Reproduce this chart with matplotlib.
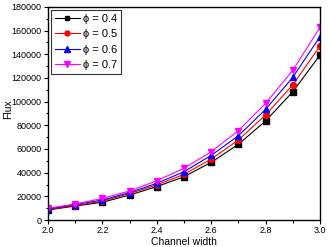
import matplotlib
matplotlib.use("Agg")
import matplotlib.pyplot as plt
from matplotlib.ticker import MultipleLocator

width = [2.0, 2.1, 2.2, 2.3, 2.4, 2.5, 2.6, 2.7, 2.8, 2.9, 3.0]
flux_04 = [8500, 11800, 15000, 21100, 28200, 36600, 48700, 64000, 83700, 108400, 139400]
flux_05 = [8900, 12200, 16000, 22400, 29600, 38600, 51500, 67600, 88700, 114300, 147000]
flux_06 = [9300, 13000, 16900, 23200, 31000, 40800, 54600, 71200, 93500, 120600, 155000]
flux_07 = [9900, 13500, 18300, 24500, 33200, 43700, 57700, 75500, 98600, 126500, 162800]
labels = ["ϕ = 0.4", "ϕ = 0.5", "ϕ = 0.6", "ϕ = 0.7"]

plt.rcParams['font.family'] = ['Liberation Sans', 'DejaVu Sans']
fig = plt.figure(figsize=(3.29, 2.47), dpi=100)
ax = fig.add_axes([48/329, 1 - 220/247, 272/329, 213/247])

styles = [("black", "s", 4.2), ("red", "o", 4.2), ("blue", "^", 4.8), ("magenta", "v", 4.8)]
for data, lab, (c, m, ms) in zip([flux_04, flux_05, flux_06, flux_07], labels, styles):
    ax.plot(width, data, color=c, marker=m, markersize=ms, linewidth=0.8, label=lab)

ax.set_xlim(2.0, 3.0)
ax.set_ylim(0, 180000)
ax.xaxis.set_major_locator(MultipleLocator(0.2))
ax.xaxis.set_minor_locator(MultipleLocator(0.1))
ax.yaxis.set_major_locator(MultipleLocator(20000))
ax.yaxis.set_minor_locator(MultipleLocator(10000))
ax.xaxis.set_major_formatter(plt.FuncFormatter(lambda v, p: "%.1f" % v))
ax.tick_params(axis='both', which='major', direction='out', length=3, width=0.8,
               labelsize=6.5, pad=1.5)
ax.tick_params(axis='both', which='minor', direction='out', length=1.8, width=0.8)
ax.tick_params(top=False, right=False, which='both')
for s in ax.spines.values():
    s.set_linewidth(1.0)

ax.set_xlabel("Channel width", fontsize=7.5, va='center')
ax.xaxis.set_label_coords(0.5, (220 - 242) / 213)
ax.set_ylabel("Flux", fontsize=7.5, va='center')
ax.yaxis.set_label_coords((8 - 48) / 272, 0.52)

leg = ax.legend(loc='upper left', fontsize=8, frameon=True, fancybox=False,
                edgecolor='black', handlelength=2.3, borderpad=0.3,
                labelspacing=0.5, handletextpad=0.25, borderaxespad=0.3,
                markerscale=0.85)
leg.get_frame().set_linewidth(0.8)

fig.savefig("out.png", dpi=100)
